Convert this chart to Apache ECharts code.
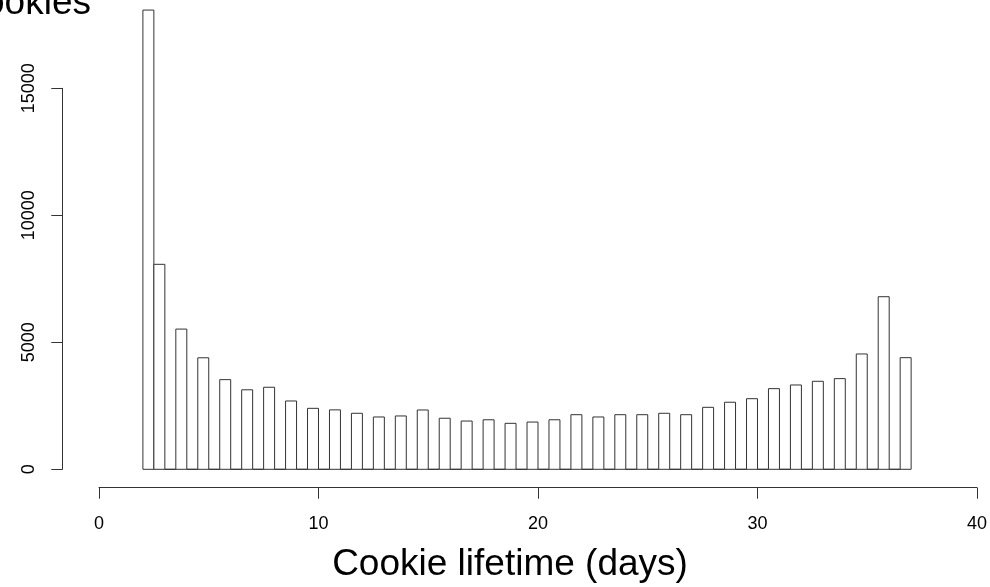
<!DOCTYPE html>
<html>
<head>
<meta charset="utf-8">
<script src="https://cdn.jsdelivr.net/npm/echarts@6/dist/echarts.min.js"></script>
<style>
html,body{margin:0;padding:0;background:#fff;}
#chart{width:990px;height:587px;}
</style>
</head>
<body>
<div id="chart"></div>
<script>
// Cookie lifetime (days) histogram bins: each bin spans [binStart, binEnd]
const binStart = [2,2.5,3.5,4.5,5.5,6.5,7.5,8.5,9.5,10.5,11.5,12.5,13.5,14.5,15.5,16.5,17.5,18.5,19.5,20.5,21.5,22.5,23.5,24.5,25.5,26.5,27.5,28.5,29.5,30.5,31.5,32.5,33.5,34.5,35.5,36.5];
const binEnd = [2.5,3,4,5,6,7,8,9,10,11,12,13,14,15,16,17,18,19,20,21,22,23,24,25,26,27,28,29,30,31,32,33,34,35,36,37];
const cookieCounts = [18080,8070,5520,4390,3530,3130,3230,2690,2400,2340,2205,2060,2100,2335,2010,1900,1950,1810,1860,1950,2150,2060,2150,2150,2205,2150,2440,2640,2780,3175,3320,3465,3570,4540,6795,4395];
// empty histogram bins (count 0), each spans [emptyBinStart, emptyBinStart + 0.5]
const emptyBinStart = [3,4,5,6,7,8,9,10,11,12,13,14,15,16,17,18,19,20,21,22,23,24,25,26,27,28,29,30,31,32,33,34,35,36];
const binWidth = 0.5;
const xTicks = [0,10,20,30,40];
const yTicks = [0,5000,10000,15000];
const xTitle = 'Cookie lifetime (days)';
const yTitle = 'Cookies';

const FONT = '"Liberation Sans", Arial, sans-serif';
const data = cookieCounts.map((c, i) => [binStart[i], binEnd[i], c])
  .concat(emptyBinStart.map(s => [s, s + binWidth, 0]));

const chart = echarts.init(document.getElementById('chart'), null, {renderer: 'canvas'});
chart.setOption({
  animation: false,
  backgroundColor: '#fff',
  grid: {left: 99, right: 11, top: 88.3, bottom: 117.7},
  xAxis: {
    type: 'value', min: xTicks[0], max: xTicks[xTicks.length - 1], interval: 10,
    offset: 18.4,
    axisLine: {show: true, onZero: false, lineStyle: {color: '#333', width: 1}},
    axisTick: {show: true, length: 11, lineStyle: {color: '#333', width: 1}},
    axisLabel: {show: true, margin: 27, fontSize: 18, color: '#000', fontFamily: FONT,
      showMinLabel: true, showMaxLabel: true, formatter: v => String(v)},
    splitLine: {show: false}
  },
  yAxis: {
    type: 'value', min: yTicks[0], max: yTicks[yTicks.length - 1], interval: 5000,
    offset: 36.7,
    axisLine: {show: true, onZero: false, lineStyle: {color: '#333', width: 1}},
    axisTick: {show: true, length: 11, lineStyle: {color: '#333', width: 1}},
    axisLabel: {show: true, rotate: 90, margin: 24, fontSize: 18, color: '#000', fontFamily: FONT,
      showMinLabel: true, showMaxLabel: true, formatter: v => String(v)},
    splitLine: {show: false}
  },
  graphic: [
    {type: 'text', x: 510, y: 565, style: {text: xTitle, font: '37px ' + FONT, fill: '#000', textAlign: 'center', textVerticalAlign: 'middle'}},
    {type: 'text', x: 91, y: 4, style: {text: yTitle, font: '37px ' + FONT, fill: '#000', textAlign: 'right', textVerticalAlign: 'middle'}}
  ],
  series: [{
    type: 'custom',
    clip: false,
    data: data,
    encode: {x: [0, 1], y: 2},
    renderItem: function (params, api) {
      const p0 = api.coord([api.value(0), 0]);
      const p1 = api.coord([api.value(1), api.value(2)]);
      return {
        type: 'rect',
        shape: {x: p0[0], y: p1[1], width: p1[0] - p0[0], height: p0[1] - p1[1]},
        style: {fill: '#fff', stroke: '#333', lineWidth: 1}
      };
    }
  }]
});
</script>
</body>
</html>
